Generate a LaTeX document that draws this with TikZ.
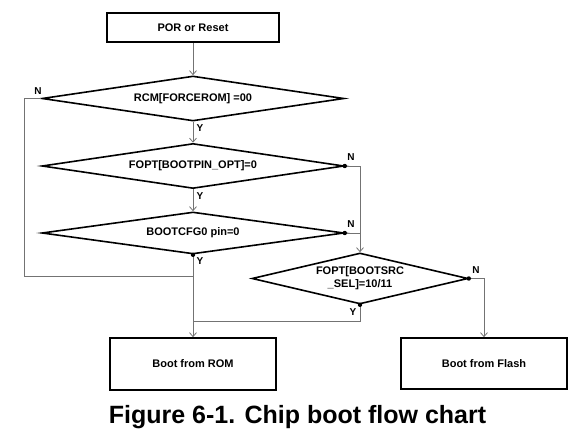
\documentclass[tikz,border=0pt]{standalone}
\usepackage{fontspec}
\setmainfont{Liberation Sans}
\usetikzlibrary{shapes.geometric,arrows.meta}
\begin{document}
\begin{tikzpicture}[x=1pt,y=-1pt,
  box/.style={draw=black,line width=1.6pt,rectangle,minimum width=166pt,minimum height=52pt,inner sep=0pt,font=\fontsize{11}{13}\selectfont\bfseries},
  dia/.style={draw=black,line width=1.6pt,diamond,inner sep=0pt,aspect=6.7,minimum width=302pt,minimum height=45pt,font=\fontsize{11}{13}\selectfont\bfseries,align=center},
  conn/.style={draw=black!55,line width=0.8pt},
  arr/.style={conn,-{Straight Barb[length=4pt,width=7pt]}},
  lbl/.style={font=\fontsize{10}{12}\selectfont\bfseries,inner sep=0pt},
  dot/.style={fill=black}]
\path[use as bounding box] (0,0) rectangle (584,446);
\node[box,minimum width=172pt,minimum height=29pt] (por) at (193,27.5) {POR or Reset};
\node[dia] (d1) at (193,98.5) {RCM[FORCEROM] =00};
\node[dia] (d2) at (193,166) {FOPT[BOOTPIN\_OPT]=0};
\node[dia,minimum height=42pt] (d3) at (193,233) {BOOTCFG0 pin=0};
\node[dia,aspect=4.2,minimum width=216pt,minimum height=51pt] (d4) at (360,278.5) {FOPT[BOOTSRC\\\_SEL]=10/11};
\node[box] (rom) at (193,364) {Boot from ROM};
\node[box,minimum height=51pt] (flash) at (484,363.5) {Boot from Flash};
\coordinate (l1) at (24,98.5);
\coordinate (l2) at (24,276);
\coordinate (j1) at (193,276);
\coordinate (r2) at (360,166);
\coordinate (r3) at (360,233);
\coordinate (y4) at (360,321);
\coordinate (j2) at (193,321);
\coordinate (n4) at (484,278.5);
\draw[arr] (por.south) -- (d1.north);
\draw[arr] (d1.south) -- (d2.north);
\draw[arr] (d2.south) -- (d3.north);
\draw[arr] (d3.south) -- (rom.north);
\draw[conn] (d1.west) -- (l1) -- (l2) -- (j1);
\draw[arr] (d2.east) -- (r2) -- (d4.north);
\draw[conn] (d3.east) -- (r3);
\draw[conn] (d4.south) -- (y4) -- (j2);
\draw[arr] (d4.east) -- (n4) -- (flash.north);
\foreach \p in {d2.east,d3.east,d3.south,d4.south,d4.east}
  \fill[dot] (\p) circle (2.2pt);
\node[lbl] (nl1) at (38,91) {N};
\node[lbl] (yl1) at (200,128) {Y};
\node[lbl] (yl2) at (200,196) {Y};
\node[lbl] (yl3) at (200,261) {Y};
\node[lbl] (nl2) at (351,157) {N};
\node[lbl] (nl3) at (351,224) {N};
\node[lbl] (nl4) at (476,270) {N};
\node[lbl] (yl4) at (353,312) {Y};
\node[font=\fontsize{25}{28}\selectfont\bfseries,anchor=base,inner sep=0pt] (cap) at (297.5,423) {Figure 6-1. Chip boot flow chart};
\end{tikzpicture}
\end{document}
